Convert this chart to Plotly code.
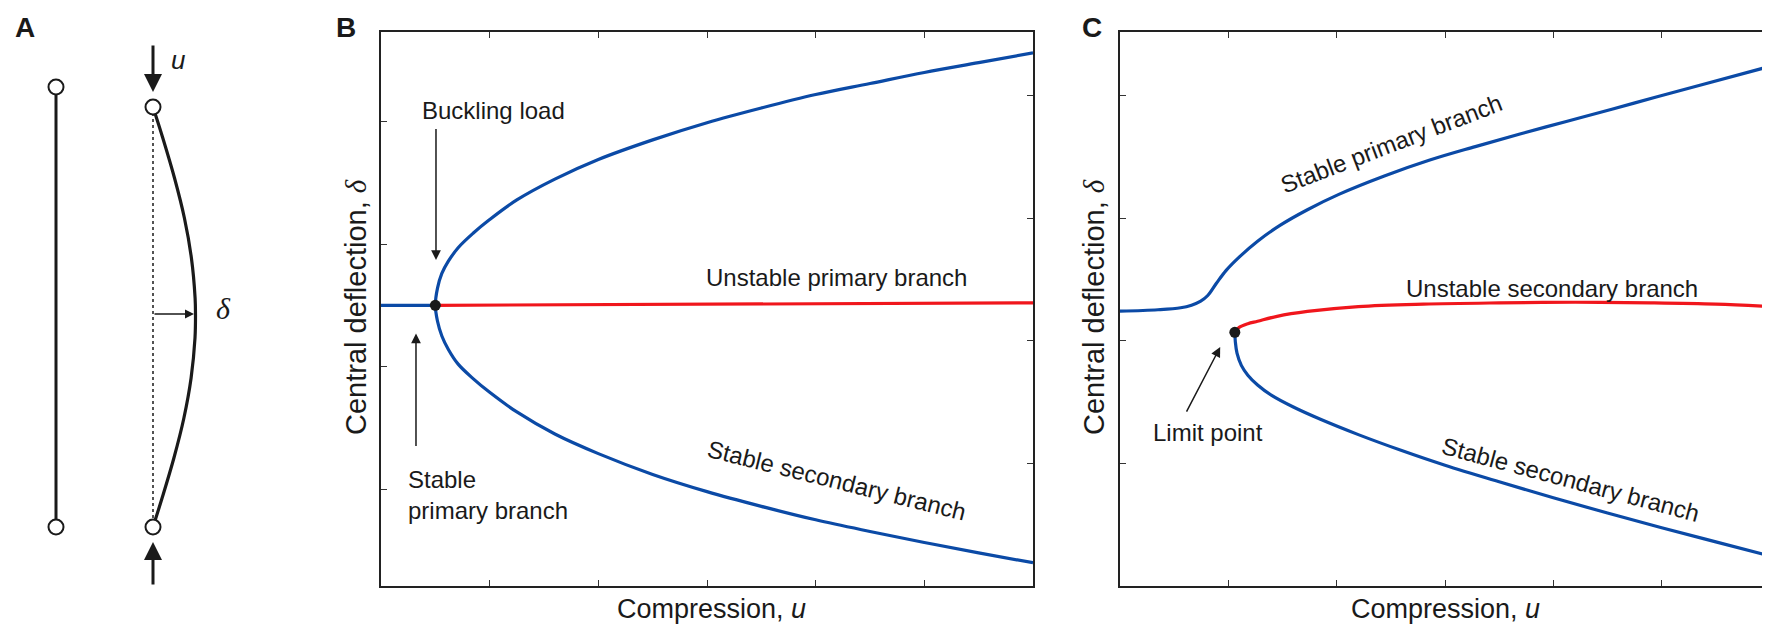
import plotly.graph_objects as go

W, H = 1770, 626

# ---------------- Panel B data (u: compression, d: central deflection) -------------
b_primary_u = [0.0, 0.5]
b_primary_d = [2.29, 2.29]
b_unstable_u = [0.5, 2.0, 4.0, 6.0]
b_unstable_d = [2.29, 2.295, 2.302, 2.31]
b_secondary_u = [6.0, 5.5, 5.0, 4.5, 4.0, 3.5, 3.0, 2.5, 2.0, 1.6, 1.25, 1.0, 0.85, 0.71, 0.62, 0.56, 0.52,
                 0.5,
                 0.52, 0.56, 0.62, 0.71, 0.85, 1.0, 1.25, 1.6, 2.0, 2.5, 3.0, 3.5, 4.0, 4.5, 5.0, 5.5, 6.0]
b_secondary_d = [0.19, 0.27, 0.355, 0.445, 0.54, 0.65, 0.77, 0.91, 1.08, 1.24, 1.42, 1.58, 1.69, 1.81, 1.93, 2.04, 2.16,
                 2.29,
                 2.43, 2.55, 2.65, 2.76, 2.88, 2.99, 3.15, 3.32, 3.48, 3.64, 3.78, 3.90, 4.01, 4.10, 4.19, 4.27, 4.35]
b_point_u = [0.5]
b_point_d = [2.29]

# ---------------- Panel C data ----------------
c_primary_u = [0.0, 0.35, 0.56, 0.66, 0.745, 0.81, 0.89, 0.98, 1.10, 1.27, 1.48, 1.73, 2.02, 2.44, 2.86,
               3.28, 3.70, 4.12, 4.54, 4.95, 5.37, 6.0]
c_primary_d = [2.242, 2.254, 2.27, 2.291, 2.324, 2.37, 2.47, 2.575, 2.683, 2.813, 2.944, 3.07, 3.195, 3.345,
               3.475, 3.585, 3.69, 3.79, 3.89, 3.99, 4.09, 4.24]
c_unstable_u = [1.06, 1.10, 1.18, 1.27, 1.45, 1.73, 2.2, 2.8, 3.5, 4.2, 4.9, 5.5, 6.0]
c_unstable_d = [2.07, 2.11, 2.14, 2.16, 2.20, 2.24, 2.28, 2.30, 2.31, 2.315, 2.31, 2.30, 2.28]
c_secondary_u = [1.06, 1.065, 1.08, 1.12, 1.18, 1.27, 1.40, 1.60, 1.85, 2.2, 2.6, 3.0, 3.5, 4.0, 4.5, 5.0, 5.5, 6.0]
c_secondary_d = [2.07, 1.99, 1.90, 1.80, 1.72, 1.64, 1.555, 1.46, 1.36, 1.235, 1.105, 0.985, 0.85, 0.72, 0.595,
                 0.475, 0.36, 0.245]
c_point_u = [1.06]
c_point_d = [2.07]

# ticks (no labels)
u_ticks = [1, 2, 3, 4, 5]
b_left_ticks = [0.79, 1.79, 2.79, 3.79]
b_right_ticks = [1, 2, 3, 4]
c_ticks = [1, 2, 3, 4]
u_range = [0, 6]
d_range = [0, 4.52]

# ---------------- Panel A schematic (drawing units = pixels) ----------------
a_straight_x = [48, 48]
a_straight_y = [79, 519]
a_bent_x = [145, 154.8, 166.5, 176.4, 183.4, 187.1, 187.5, 187.0, 183.1, 175.9, 165.9, 154.1, 145]
a_bent_y = [99, 130, 170, 210, 250, 290, 307, 330, 370, 410, 450, 490, 519]
a_chord_x = [145, 145]
a_chord_y = [99, 519]
a_pin_x = [48, 48, 145, 145]
a_pin_y = [79, 519, 99, 519]

BLUE = "#0b4aa6"
RED = "#f0161c"
INK = "#1a1a1a"
FONT = "Liberation Sans, Arial, Helvetica, sans-serif"

fig = go.Figure()

def line(x, y, color, xa, ya, width=3.2, shape="spline", dash=None):
    fig.add_trace(go.Scatter(x=x, y=y, mode="lines", xaxis=xa, yaxis=ya,
                             line=dict(color=color, width=width, shape=shape, dash=dash),
                             hoverinfo="skip", showlegend=False))

# Panel B
line(b_primary_u, b_primary_d, BLUE, "x", "y", shape="linear")
line(b_unstable_u, b_unstable_d, RED, "x", "y", shape="linear")
line(b_secondary_u, b_secondary_d, BLUE, "x", "y")
fig.add_trace(go.Scatter(x=b_point_u, y=b_point_d, mode="markers", xaxis="x", yaxis="y",
                         marker=dict(color=INK, size=11), hoverinfo="skip", showlegend=False))
fig.add_trace(go.Scatter(x=[None], y=[None], xaxis="x", yaxis="y4", showlegend=False, hoverinfo="skip"))

# Panel C
line(c_primary_u, c_primary_d, BLUE, "x2", "y2")
line(c_unstable_u, c_unstable_d, RED, "x2", "y2")
line(c_secondary_u, c_secondary_d, BLUE, "x2", "y2")
fig.add_trace(go.Scatter(x=c_point_u, y=c_point_d, mode="markers", xaxis="x2", yaxis="y2",
                         marker=dict(color=INK, size=11), hoverinfo="skip", showlegend=False))

# Panel A
line(a_straight_x, a_straight_y, INK, "x3", "y3", width=3, shape="linear")
line(a_chord_x, a_chord_y, INK, "x3", "y3", width=1.5, shape="linear", dash="dot")
line(a_bent_x, a_bent_y, INK, "x3", "y3", width=3.2)
fig.add_trace(go.Scatter(x=a_pin_x, y=a_pin_y, mode="markers", xaxis="x3", yaxis="y3",
                         marker=dict(color="white", size=15, line=dict(color=INK, width=2)),
                         hoverinfo="skip", showlegend=False))

# domains
xB = [373 / W, 1025 / W]
xC = [1112 / W, 1762 / W]
yD = [1 - 578 / H, 1 - 24 / H]

axis_common = dict(showline=True, linecolor="#222222", linewidth=2, showgrid=False, zeroline=False,
                   ticks="inside", ticklen=6, tickwidth=1.2, tickcolor="#333333", showticklabels=False,
                   fixedrange=True)

fig.update_layout(
    width=W, height=H, margin=dict(l=0, r=0, t=0, b=0),
    paper_bgcolor="white", plot_bgcolor="white",
    font=dict(family=FONT, color=INK),
    xaxis=dict(domain=xB, range=u_range, anchor="y", tickvals=u_ticks, mirror="ticks", **axis_common),
    yaxis=dict(domain=yD, range=d_range, anchor="x", tickvals=b_left_ticks, mirror=True, **axis_common),
    yaxis4=dict(range=d_range, overlaying="y", side="right", anchor="x", tickvals=b_right_ticks,
                showline=False, showgrid=False, zeroline=False, ticks="inside", ticklen=6, tickwidth=1.2,
                tickcolor="#333333", showticklabels=False, fixedrange=True),
    xaxis2=dict(domain=xC, range=u_range, anchor="y2", tickvals=u_ticks, mirror="ticks", **axis_common),
    yaxis2=dict(domain=yD, range=d_range, anchor="x2", tickvals=c_ticks, mirror="ticks", **axis_common),
    xaxis3=dict(domain=[0, 0.19], range=[0, 0.19 * W], anchor="y3", visible=False, fixedrange=True),
    yaxis3=dict(domain=[0, 1], range=[H, 0], anchor="x3", visible=False, fixedrange=True),
)

ann = []

def text(x, y, s, xref, yref, size=24, angle=0, xanchor="center", yanchor="middle", align="center", family=FONT):
    ann.append(dict(x=x, y=y, xref=xref, yref=yref, text=s, showarrow=False, textangle=angle,
                    xanchor=xanchor, yanchor=yanchor, align=align, font=dict(size=size, family=family, color=INK)))

def arrow(x, y, ax, ay, xref, yref, width=1.5, head=2, size=1.3):
    ann.append(dict(x=x, y=y, ax=ax, ay=ay, xref=xref, yref=yref, axref=xref, ayref=yref, text="",
                    showarrow=True, arrowhead=head, arrowsize=size, arrowwidth=width, arrowcolor=INK, standoff=0))

DELTA = "<span style='font-family:Liberation Serif, Times New Roman, serif'><i>δ</i></span>"

# panel letters
text(17 / W, 1 - 20 / H, "<b>A</b>", "paper", "paper", size=28)
text(338 / W, 1 - 20 / H, "<b>B</b>", "paper", "paper", size=28)
text(1084 / W, 1 - 19 / H, "<b>C</b>", "paper", "paper", size=28)

# axis titles
for xc, xt in [((373 + 1025) / 2 / W + 4 / W, 348 / W), ((1112 + 1762) / 2 / W, 1086 / W)]:
    text(xc, 1 - 601 / H, "Compression, <i>u</i>", "paper", "paper", size=27)
    text(xt, 1 - 299 / H, "Central deflection, " + DELTA, "paper", "paper", size=29, angle=-90)

# Panel B annotations
text(0.36, 3.88, "Buckling load", "x", "y", xanchor="left")
arrow(0.506, 2.66, 0.506, 3.74, "x", "y")
text(0.23, 0.74, "Stable<br>primary branch", "x", "y", xanchor="left", align="left")
arrow(0.322, 2.06, 0.322, 1.13, "x", "y")
text(4.19, 2.52, "Unstable primary branch", "x", "y")
text(4.2, 0.86, "Stable secondary branch", "x", "y", angle=14)

# Panel C annotations
text(2.51, 3.61, "Stable primary branch", "x2", "y2", angle=-21)
text(3.99, 2.43, "Unstable secondary branch", "x2", "y2")
text(0.816, 1.25, "Limit point", "x2", "y2")
arrow(0.925, 1.95, 0.607, 1.41, "x2", "y2")
text(4.16, 0.87, "Stable secondary branch", "x2", "y2", angle=15)

# Panel A annotations
arrow(145, 84, 145, 36, "x3", "y3", width=3, head=2, size=1.2)
arrow(145, 534, 145, 578, "x3", "y3", width=3, head=2, size=1.2)
arrow(186, 306, 145, 306, "x3", "y3", width=1.5, head=2, size=1.2)
text(170, 52, "<i>u</i>", "x3", "y3", size=26)
text(215, 300, DELTA, "x3", "y3", size=30)

fig.update_layout(annotations=ann)
fig.write_html("out.html")
